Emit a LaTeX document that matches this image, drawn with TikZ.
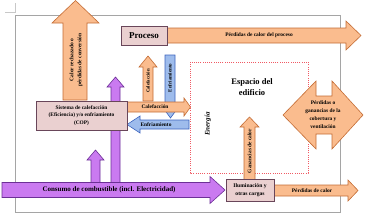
\documentclass[tikz,border=0pt]{standalone}
\usepackage{fontspec}
\setmainfont{Liberation Serif}
\begin{document}
\begin{tikzpicture}[x=1pt,y=-1pt,
  orangeshape/.style={fill={rgb,255:red,250;green,188;blue,142},draw={rgb,255:red,196;green,108;blue,52},line width=0.6pt,line join=miter},
  purpleshape/.style={fill={rgb,255:red,202;green,122;blue,240},draw={rgb,255:red,108;green,48;blue,150},line width=0.6pt},
  blueshape/.style={fill={rgb,255:red,158;green,188;blue,236},draw={rgb,255:red,60;green,100;blue,190},line width=0.6pt},
  pinkbox/.style={fill={rgb,255:red,234;green,208;blue,208},draw={rgb,255:red,105;green,70;blue,90},line width=0.8pt},
  smalltxt/.style={font=\fontsize{5.4}{8}\selectfont\bfseries,align=center,inner sep=0pt},
  boxtxt/.style={font=\fontsize{5.4}{7.8}\selectfont\bfseries,align=center,inner sep=0pt},
  framegray/.style={draw={rgb,255:red,165;green,165;blue,165},line width=0.8pt}
]
\useasboundingbox (0,0) rectangle (366,217);
% frame and crop mark
\draw[framegray] (15,15) rectangle (340,212);
\draw[draw={rgb,255:red,200;green,200;blue,200},line width=0.5pt] (15,3) -- (15,12) -- (5,12);

% big orange up arrow
\draw[orangeshape] (63,100) -- (63,23) -- (52,23) -- (75.5,0.5) -- (99,23) -- (87,23) -- (87,100) -- cycle;
\node[smalltxt,rotate=90] (rech) at (76,60) {Calor rechazado o\\pérdidas de conversión};

% purple long arrow (behind system box)
\draw[purpleshape] (111,183) -- (111,87) -- (107,87) -- (115.5,77) -- (124,87) -- (120,87) -- (120,183) -- cycle;
% small purple arrow
\draw[purpleshape] (91,183) -- (91,160) -- (87,160) -- (95.5,150) -- (104,160) -- (100,160) -- (100,183) -- cycle;

% process losses arrow
\draw[orangeshape] (167,28) -- (346,28) -- (346,21) -- (361,35.5) -- (346,50) -- (346,43) -- (167,43) -- cycle;
\node[smalltxt] (perproc) at (259,35.5) {Pérdidas de calor del proceso};
% Proceso box
\draw[pinkbox] (121,26) rectangle (167,45);
\node[font=\fontsize{9}{10}\selectfont\bfseries,inner sep=0pt] (proceso) at (144,35.5) {Proceso};

% small heating up arrow
\draw[orangeshape] (143,101) -- (143,67) -- (139,67) -- (148,56) -- (157,67) -- (153,67) -- (153,101) -- cycle;
\node[smalltxt,font=\fontsize{4.8}{6}\selectfont\bfseries,rotate=90] (calup) at (148,81) {Calefacción};

% blue down arrow
\draw[blueshape] (165,55) -- (175,55) -- (175,105) -- (180,105) -- (170.5,118) -- (161,105) -- (165,105) -- cycle;
\node[smalltxt,font=\fontsize{5}{6}\selectfont\bfseries,rotate=90] (enfdown) at (170,78) {Enfriamiento};

% heating horizontal arrow
\draw[orangeshape] (127,102) -- (184,102) -- (184,98) -- (190.5,107) -- (184,116) -- (184,112) -- (127,112) -- cycle;
\node[smalltxt] (calh) at (155,107) {Calefacción};

% cooling horizontal arrow
\draw[blueshape] (189,120) -- (140,120) -- (140,116) -- (127,124.5) -- (140,133) -- (140,129) -- (189,129) -- cycle;
\node[smalltxt] (enfh) at (156,124.5) {Enfriamiento};

% system box
\draw[pinkbox] (36,101) rectangle (127,130);
\node[boxtxt] (sistema) at (81.5,115.5) {Sistema de calefacción\\(Eficiencia) y/o enfriamiento\\(COP)};

% building space
\draw[draw={rgb,255:red,240;green,90;blue,100},line width=0.7pt,dash pattern=on 1pt off 1.2pt] (190,62) rectangle (308,173);
\node[font=\fontsize{8.5}{11}\selectfont\bfseries,align=center,inner sep=0pt] (espacio) at (252,87.5) {Espacio del\\edificio};
\node[font=\fontsize{7}{8}\selectfont\bfseries\itshape,rotate=90,inner sep=0pt] (energia) at (208,124) {Energía};

% envelope double arrow
\draw[orangeshape] (283,115) -- (316,81) -- (316,96) -- (332,96) -- (332,81) -- (363,115) -- (332,149) -- (332,134) -- (316,134) -- (316,149) -- cycle;
\node[smalltxt] (envol) at (323,115) {Pérdidas o\\ganancias de la\\cobertura y\\ventilación};

% heat gains up arrow
\draw[orangeshape] (244,180) -- (244,127) -- (240,127) -- (249.5,117) -- (259,127) -- (255,127) -- (255,180) -- cycle;
\node[smalltxt,rotate=90] (ganan) at (249.5,151) {Ganancias de calor};

% heat losses arrow
\draw[orangeshape] (274,185) -- (348,185) -- (348,180) -- (358,190.5) -- (348,201) -- (348,196) -- (274,196) -- cycle;
\node[smalltxt] (perdcal) at (312,190.5) {Pérdidas de calor};

% lighting box
\draw[pinkbox] (226,179) rectangle (274,201);
\node[boxtxt,font=\fontsize{5.6}{8}\selectfont\bfseries] (ilum) at (250,190) {Iluminación y\\otras cargas};

% fuel consumption bar
\draw[purpleshape] (2,182.5) -- (210,182.5) -- (210,176.5) -- (225,190) -- (210,203.5) -- (210,197.5) -- (2,197.5) -- cycle;
\node[font=\fontsize{7}{8}\selectfont\bfseries,inner sep=0pt] (consumo) at (109,190) {Consumo de combustible (incl. Electricidad)};
\end{tikzpicture}
\end{document}
